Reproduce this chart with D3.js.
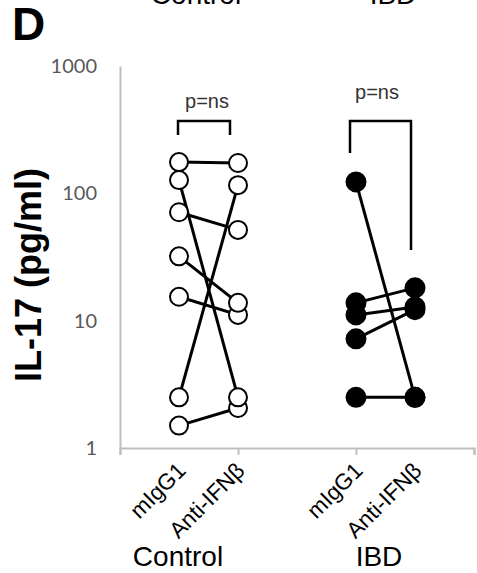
<!DOCTYPE html>
<html><head><meta charset="utf-8">
<script src="https://cdn.jsdelivr.net/npm/d3@7"></script>
<style>html,body{margin:0;padding:0;background:#fff;}svg{display:block;}</style>
</head><body>
<svg id="c" width="477" height="573"></svg>
<script>
// ---- data ----
const groups = ["Control", "IBD"];
const treatments = ["mIgG1", "Anti-IFNβ"];
const yTicks = [1, 10, 100, 1000];
// paired values [mIgG1, Anti-IFNβ] per donor
const controlMIgG1 = [1.5, 15.4, 176, 32, 127, 71, 2.5];
const controlAnti  = [2.06, 11.1, 173, 13.8, 2.5, 51.6, 116];
const ibdMIgG1 = [123, 13.8, 11.1, 7.2, 2.5];
const ibdAnti  = [2.5, 18.1, 12.8, 12.2, 2.5];
const pLabels = ["p=ns", "p=ns"];
// x positions (category slots on a 0..6 axis)
const slotPos = [1, 2, 4, 5];
const axisTicks = [0, 2, 4, 6];

const svg = d3.select("#c");
const x = d3.scaleLinear().domain([0, 6]).range([120, 474]);
const y = d3.scaleLog().domain([1, 1000]).range([448, 66]);
const axisColor = "#bfbfbf";

// Y axis
const yAxis = svg.append("g").attr("transform", "translate(120,0)")
  .call(d3.axisLeft(y).tickValues(yTicks).tickSize(0).tickPadding(23).tickFormat(d3.format("d")));
yAxis.select(".domain").attr("stroke", axisColor).attr("stroke-width", 2);
yAxis.selectAll("text").attr("font-family", "Lato, 'Open Sans', sans-serif").attr("font-size", 20).attr("fill", "#595959");

// X axis
const xAxis = svg.append("g").attr("transform", "translate(0,448)")
  .call(d3.axisBottom(x).tickValues(axisTicks).tickSize(7).tickFormat(""));
xAxis.select(".domain").attr("stroke", axisColor).attr("stroke-width", 2);
xAxis.selectAll(".tick line").attr("stroke", axisColor).attr("stroke-width", 2);

// category labels (rotated)
const catLabels = [];
groups.forEach((g, gi) => treatments.forEach((t, ti) => catLabels.push({t, pos: slotPos[gi * 2 + ti]})));
svg.selectAll("text.cat").data(catLabels).enter().append("text")
  .attr("class", "cat")
  .attr("transform", d => `translate(${x(d.pos) + 8},472) rotate(-45)`)
  .attr("text-anchor", "end")
  .attr("font-family", "'Liberation Sans', Arial, sans-serif")
  .attr("font-size", 22.5).attr("fill", "#000")
  .text(d => d.t);

// group labels bottom
const groupLabelX = [178, 379];
svg.selectAll("text.grp").data(groups).enter().append("text")
  .attr("x", (d, i) => groupLabelX[i]).attr("y", 566)
  .attr("text-anchor", "middle")
  .attr("font-family", "'Liberation Sans', Arial, sans-serif")
  .attr("font-size", 28).attr("fill", "#000").text(d => d);
// cut-off group labels at top
const topLabelX = [196, 393];
svg.selectAll("text.grpTop").data(groups).enter().append("text")
  .attr("x", (d, i) => topLabelX[i]).attr("y", 4)
  .attr("text-anchor", "middle")
  .attr("font-family", "'Liberation Sans', Arial, sans-serif")
  .attr("font-size", 28).attr("fill", "#000").text(d => d);

// panel letter
svg.append("text").attr("x", 12).attr("y", 40)
  .attr("font-family", "'Liberation Sans', Arial, sans-serif")
  .attr("font-weight", "bold").attr("font-size", 46).text("D");

// y title
svg.append("text").attr("transform", "translate(41,275) rotate(-90)")
  .attr("text-anchor", "middle")
  .attr("font-family", "'Liberation Sans', Arial, sans-serif")
  .attr("font-weight", "bold").attr("font-size", 36).text("IL-17 (pg/ml)");

// paired data
const sets = [
  {a: controlMIgG1, b: controlAnti, xa: slotPos[0], xb: slotPos[1], fill: "#fff", r: 9},
  {a: ibdMIgG1, b: ibdAnti, xa: slotPos[2], xb: slotPos[3], fill: "#000", r: 9.5}
];
sets.forEach(s => {
  const pairs = s.a.map((v, i) => [v, s.b[i]]);
  svg.append("g").selectAll("line").data(pairs).enter().append("line")
    .attr("x1", x(s.xa)).attr("x2", x(s.xb))
    .attr("y1", d => y(d[0])).attr("y2", d => y(d[1]))
    .attr("stroke", "#000").attr("stroke-width", 3);
});
sets.forEach(s => {
  const pts = [];
  s.a.forEach((v, i) => { pts.push({xv: s.xa, v}); pts.push({xv: s.xb, v: s.b[i]}); });
  svg.append("g").selectAll("circle").data(pts).enter().append("circle")
    .attr("cx", d => x(d.xv)).attr("cy", d => y(d.v)).attr("r", s.r)
    .attr("fill", s.fill).attr("stroke", "#000").attr("stroke-width", 2);
});

// significance brackets
const brackets = [
  {x1: 178, x2: 230, top: 121, l: 135, r: 135, tx: 207, ty: 108},
  {x1: 350, x2: 411, top: 121, l: 153, r: 250, tx: 377, ty: 99}
];
brackets.forEach((b, i) => {
  svg.append("path")
    .attr("d", `M${b.x1},${b.l}V${b.top}H${b.x2}V${b.r}`)
    .attr("fill", "none").attr("stroke", "#000").attr("stroke-width", 2.5);
  svg.append("text").attr("x", b.tx).attr("y", b.ty).attr("text-anchor", "middle")
    .attr("font-family", "'Liberation Sans', Arial, sans-serif")
    .attr("font-size", 20).attr("fill", "#333").text(pLabels[i]);
});
</script>
</body></html>
